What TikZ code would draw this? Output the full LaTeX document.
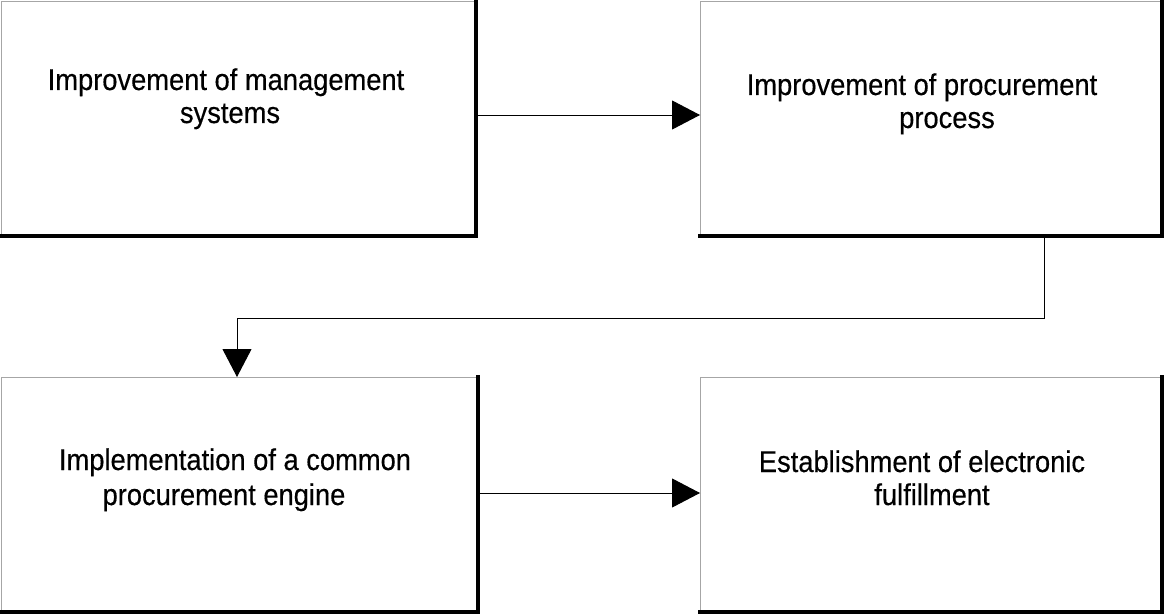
\documentclass[tikz,border=0pt]{standalone}
\usepackage{fontspec}
\setmainfont{Liberation Sans}
\newfontfamily\boxfont[FakeStretch=0.91,FakeBold=0.4]{Liberation Sans}
\usetikzlibrary{arrows.meta,calc}
\tikzset{
  stepbox/.style={draw=gray!70, line width=0.8pt, minimum width=#1, minimum height=236pt,
    inner sep=0pt, anchor=north west},
  steptext/.style={font=\boxfont\fontsize{30}{34}\selectfont, inner sep=0pt, anchor=base},
  flow/.style={draw=black, line width=0.9pt, -{Triangle[length=28pt,width=29pt]}},
}
\newcommand{\heavyedge}[1]{%
  \draw[line width=4pt, line cap=rect] ($(#1.north east)+(-2pt,0)$) -- ($(#1.south east)+(-2pt,2pt)$) -- ($(#1.south west)+(0,2pt)$);}
\begin{document}
\begin{tikzpicture}[x=1pt,y=-1pt]
  \useasboundingbox[fill=white] (0,0) rectangle (1165,615);
  % the four stages
  \node[stepbox=476pt] (mgmt) at (1,1) {};
  \node[stepbox=463pt] (proc) at (700,1) {};
  \node[stepbox=478pt] (engine) at (1,377) {};
  \node[stepbox=463pt] (fulfil) at (700,377) {};
  \heavyedge{mgmt}
  \heavyedge{proc}
  \heavyedge{engine}
  \heavyedge{fulfil}
  % stage captions, one node per line
  \node[steptext] (mgmtA) at (226,90) {Improvement of management};
  \node[steptext] (mgmtB) at (230,123) {systems};
  \node[steptext] (procA) at (922,95) {Improvement of procurement};
  \node[steptext] (procB) at (947,128) {process};
  \node[steptext] (engineA) at (235,470) {Implementation of a common};
  \node[steptext] (engineB) at (224,505) {procurement engine};
  \node[steptext] (fulfilA) at (922,472) {Establishment of electronic};
  \node[steptext] (fulfilB) at (932,505) {fulfillment};
  % connectors
  \coordinate (bendA) at (1044,318);
  \coordinate (bendB) at (237,318);
  \draw[flow] (mgmt.east |- 0,115) -- (proc.west |- 0,115);
  \draw[flow] (proc.south -| bendA) -- (bendA) -- (bendB) -- (engine.north -| bendB);
  \draw[flow] (engine.east |- 0,493) -- (fulfil.west |- 0,493);
\end{tikzpicture}
\end{document}
